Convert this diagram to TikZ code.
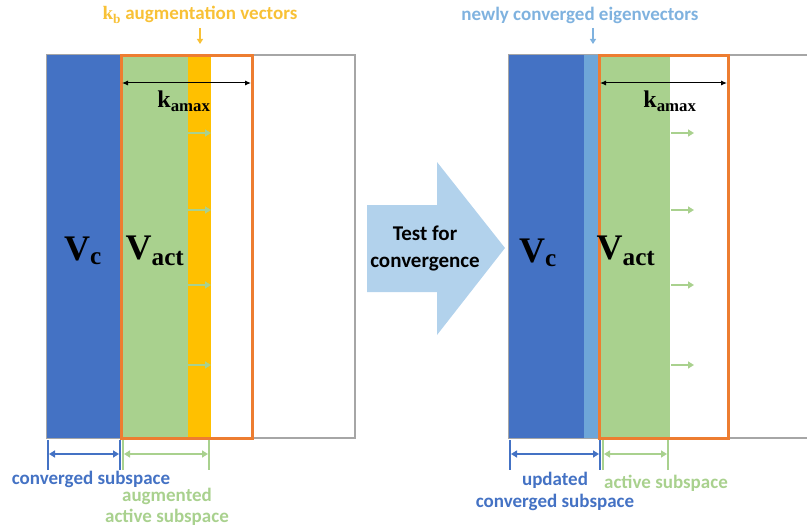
\documentclass[tikz,border=0pt]{standalone}
\usepackage{fontspec}
\setmainfont{Liberation Serif}
\newfontfamily\carl{Carlito}
\usetikzlibrary{arrows.meta}
\definecolor{blueC}{HTML}{4472C4}
\definecolor{greenC}{HTML}{A9D18E}
\definecolor{yellowC}{HTML}{FFC000}
\definecolor{orangeC}{HTML}{ED7D31}
\definecolor{grayC}{HTML}{A6A6A6}
\definecolor{stripC}{HTML}{6EA6D8}
\definecolor{stripT}{HTML}{7FB2DF}
\definecolor{bigarrowC}{HTML}{B2D2EC}
\definecolor{yellowT}{HTML}{F8C136}
\tikzset{
  lbl/.style={font=\carl\bfseries\fontsize{19}{22}\selectfont, inner sep=0pt, align=center},
  bigsym/.style={font=\bfseries\fontsize{36}{40}\selectfont, inner sep=0pt},
  ksym/.style={font=\bfseries\fontsize{24}{26}\selectfont, inner sep=0pt},
  tick/.style={line width=2.4pt},
  dimarrow/.style={line width=2.4pt, {Triangle[length=6pt,width=7pt]}-{Triangle[length=6pt,width=7pt]}},
  karrow/.style={line width=1pt, black, {Latex[length=6pt,width=5pt]}-{Latex[length=6pt,width=5pt]}},
  garrow/.style={line width=2.2pt, greenC, -{Triangle[length=6pt,width=7pt]}},
  downarrow/.style={line width=2pt, -{Triangle[length=5pt,width=6pt]}},
  frame/.style={draw=grayC, line width=2pt},
  oframe/.style={draw=orangeC, line width=3pt}
}
\begin{document}
\begin{tikzpicture}[x=1pt,y=-1pt]
\useasboundingbox (0,0) rectangle (807,527);
% ---------------- left panel ----------------
\draw[frame, fill=white] (47,55) rectangle (355,438);
\fill[blueC] (47,55) rectangle (120,438);
\fill[greenC] (120,55) rectangle (188,438);
\fill[yellowC] (188,55) rectangle (211,438);
\draw[oframe] (121,56) rectangle (252,438);
\node[bigsym] (vcL) at (83,251) {V\textsubscript{c}};
\node[bigsym] (vactL) at (155,251) {V\textsubscript{act}};
\coordinate (kL1) at (122,83);
\coordinate (kL2) at (251,83);
\draw[karrow] (kL1) -- (kL2);
\node[ksym] (kamaxL) at (184,101) {k\textsubscript{amax}};
\foreach \yy [count=\i] in {133,210,285,365}{
  \coordinate (gLa\i) at (188,\yy);
  \coordinate (gLb\i) at (211,\yy);
  \draw[garrow] (gLa\i) -- (gLb\i);
}
% top label left
\node[lbl, text=yellowT] (kbLabel) at (200,15) {{\rmfamily k\textsubscript{b}} augmentation vectors};
\coordinate (dL1) at (200,28);
\coordinate (dL2) at (200,44);
\draw[downarrow, yellowT] (dL1) -- (dL2);
% bottom dimension left
\coordinate (tb1) at (48,440); \coordinate (tb1e) at (48,470);
\coordinate (tb2) at (120,440); \coordinate (tb2e) at (120,470);
\draw[tick, blueC] (tb1) -- (tb1e);
\draw[tick, blueC] (tb2) -- (tb2e);
\coordinate (cb1) at (49,454); \coordinate (cb2) at (119,454);
\draw[dimarrow, blueC] (cb1) -- (cb2);
\coordinate (tg1) at (123,440); \coordinate (tg1e) at (123,470);
\coordinate (tg2) at (209,440); \coordinate (tg2e) at (209,470);
\draw[tick, greenC] (tg1) -- (tg1e);
\draw[tick, greenC] (tg2) -- (tg2e);
\coordinate (cg1) at (124,454); \coordinate (cg2) at (208,454);
\draw[dimarrow, greenC] (cg1) -- (cg2);
\node[lbl, text=blueC] (convL) at (91,479) {converged subspace};
\node[lbl, text=greenC] (augL) at (167,496) {augmented};
\node[lbl, text=greenC] (actL) at (167,517) {active subspace};
% ---------------- big arrow ----------------
\fill[bigarrowC] (367,205) -- (437,205) -- (437,162) -- (505,248) -- (437,335) -- (437,292) -- (367,292) -- cycle;
\node[lbl, font=\carl\bfseries\fontsize{21}{27}\selectfont, text=black] (test) at (425,248) {Test for\\convergence};
% ---------------- right panel ----------------
\draw[grayC, line width=2pt] (808,55) -- (509,55) -- (509,438) -- (808,438);
\fill[blueC] (509,55) rectangle (584,438);
\fill[stripC] (584,55) rectangle (598,438);
\fill[greenC] (598,55) rectangle (670,438);
\draw[oframe] (599,56) rectangle (728,438);
\node[bigsym] (vcR) at (538,253) {V\textsubscript{c}};
\node[bigsym] (vactR) at (626,251) {V\textsubscript{act}};
\coordinate (kR1) at (600,83);
\coordinate (kR2) at (727,83);
\draw[karrow] (kR1) -- (kR2);
\node[ksym] (kamaxR) at (670,101) {k\textsubscript{amax}};
\foreach \yy [count=\i] in {133,210,285,365}{
  \coordinate (gRa\i) at (671,\yy);
  \coordinate (gRb\i) at (694,\yy);
  \draw[garrow] (gRa\i) -- (gRb\i);
}
\node[lbl, text=stripT] (newLabel) at (580,15) {newly converged eigenvectors};
\coordinate (dR1) at (593,28);
\coordinate (dR2) at (593,44);
\draw[downarrow, stripT] (dR1) -- (dR2);
\coordinate (rb1) at (510,440); \coordinate (rb1e) at (510,470);
\coordinate (rb2) at (600,440); \coordinate (rb2e) at (600,470);
\draw[tick, blueC] (rb1) -- (rb1e);
\draw[tick, blueC] (rb2) -- (rb2e);
\coordinate (rcb1) at (511,454); \coordinate (rcb2) at (599,454);
\draw[dimarrow, blueC] (rcb1) -- (rcb2);
\coordinate (rg1) at (603,440); \coordinate (rg1e) at (603,470);
\coordinate (rg2) at (668,440); \coordinate (rg2e) at (668,470);
\draw[tick, greenC] (rg1) -- (rg1e);
\draw[tick, greenC] (rg2) -- (rg2e);
\coordinate (rcg1) at (604,454); \coordinate (rcg2) at (667,454);
\draw[dimarrow, greenC] (rcg1) -- (rcg2);
\node[lbl, text=blueC] (updR) at (555,480) {updated};
\node[lbl, text=blueC] (convR) at (555,502) {converged subspace};
\node[lbl, text=greenC] (actR) at (666,483) {active subspace};
\end{tikzpicture}
\end{document}
